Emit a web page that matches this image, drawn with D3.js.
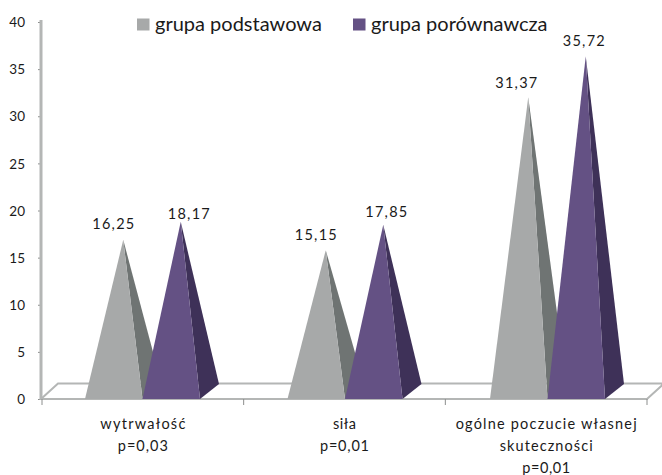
<!DOCTYPE html>
<html><head><meta charset="utf-8">
<script src="https://cdn.jsdelivr.net/npm/d3@7"></script>
<style>html,body{margin:0;padding:0;background:#fff}svg{display:block}text{font-family:Lato,"Open Sans",sans-serif;fill:#1a1a1a}</style>
</head><body><div id="chart"></div>
<script>
const categories = ["wytrwałość","siła","ogólne poczucie własnej skuteczności"];
const categoryLines = [["wytrwałość","p=0,03"],["siła","p=0,01"],["ogólne poczucie własnej","skuteczności","p=0,01"]];
const seriesNames = ["grupa podstawowa","grupa porównawcza"];
const podstawowa = [16.25,15.15,31.37];
const porownawcza = [18.17,17.85,35.72];
const valueLabels = [["16,25","15,15","31,37"],["18,17","17,85","35,72"]];
const yTicks = [0,5,10,15,20,25,30,35,40];

const W=662,H=475;
const frontColors=["#a7a9a9","#645184"], sideColors=["#6f7473","#3e3158"];
const depthX=19, depthY=15, axisCol="#b4b6b5";
const labelDx=[[-10,-10,-12],[8,3,-2]], labelDy=[[-11,-10,-9],[-3,-8,-10]];
const lineWidths=[[85,50],[23,49],[181,93,48]];
const series=[podstawowa,porownawcza];

const svg=d3.select("#chart").append("svg").attr("width",W).attr("height",H);
const y=d3.scaleLinear().domain([0,40]).range([399,22]);
const x=d3.scaleBand().domain(categories).range([42,647]);
const xBars=d3.scaleBand().domain(categories).range([42,649.5]);
const inner=d3.scaleBand().domain([0,1]).range([43,158]);

// floor
const x0=41,x1=647,fy=y(0);
svg.append("path").attr("fill","#fff").attr("stroke",axisCol).attr("stroke-width",2)
  .attr("d",`M${x0},${fy}L${x0+17},${fy-15.5}L${x1+17},${fy-15.5}L${x1},${fy}Z`);

// y axis
const ya=svg.append("g").attr("transform","translate(41,0)").call(d3.axisLeft(y).tickValues(yTicks).tickSize(3).tickFormat(d3.format("d")));
ya.select(".domain").remove();
ya.selectAll("line").attr("stroke","#8c8e8d");
ya.selectAll("text").attr("x",-16).attr("font-size",13.5).attr("dy","0.35em").style("fill","#1a1a1a");
svg.append("line").attr("x1",41).attr("x2",41).attr("y1",y(40)-2).attr("y2",y(0)+1).attr("stroke",axisCol).attr("stroke-width",3);

// x ticks
const xa=svg.append("g").attr("transform",`translate(0,${y(0)})`);
xa.selectAll("line").data([0,1,2,3]).join("line")
  .attr("x1",i=>i<3?x(categories[i]):x(categories[2])+x.bandwidth())
  .attr("x2",i=>i<3?x(categories[i]):x(categories[2])+x.bandwidth())
  .attr("y1",0).attr("y2",6).attr("stroke","#8c8e8d");

// pyramids
series.forEach((vals,s)=>{
  const g=svg.append("g");
  vals.forEach((v,i)=>{
    const left=xBars(categories[i])+inner(s), right=left+inner.bandwidth();
    const ax=(left+right)/2+depthX/2, ay=y(v)-6;
    g.append("path").attr("fill",sideColors[s]).attr("d",`M${right},${fy}L${right+depthX},${fy-depthY}L${ax},${ay}Z`);
    g.append("path").attr("fill",frontColors[s]).attr("d",`M${left},${fy}L${right},${fy}L${ax},${ay}Z`);
  });
});
series.forEach((vals,s)=>vals.forEach((v,i)=>{
  const left=xBars(categories[i])+inner(s);
  svg.append("text").attr("text-anchor","middle").attr("font-size",14.5).attr("textLength",42).attr("lengthAdjust","spacing")
    .attr("x",left+inner.bandwidth()/2+depthX/2+labelDx[s][i]).attr("y",y(v)-6+labelDy[s][i]).text(valueLabels[s][i]);
}));

// category labels
categories.forEach((c,i)=>{
  categoryLines[i].forEach((l,k)=>svg.append("text").attr("text-anchor","middle").attr("font-size",14.5)
    .attr("textLength",lineWidths[i][k]).attr("lengthAdjust","spacing")
    .attr("x",x(c)+x.bandwidth()/2).attr("y",429+k*22).text(l));
});

// legend
const lg=svg.append("g");
[[137,155],[353,371]].forEach((p,i)=>{
  lg.append("rect").attr("x",p[0]).attr("y",18.5).attr("width",12.5).attr("height",12).attr("fill",frontColors[i]);
  lg.append("text").attr("x",p[1]).attr("y",31).attr("font-size",20).text(seriesNames[i]);
});
</script></body></html>
